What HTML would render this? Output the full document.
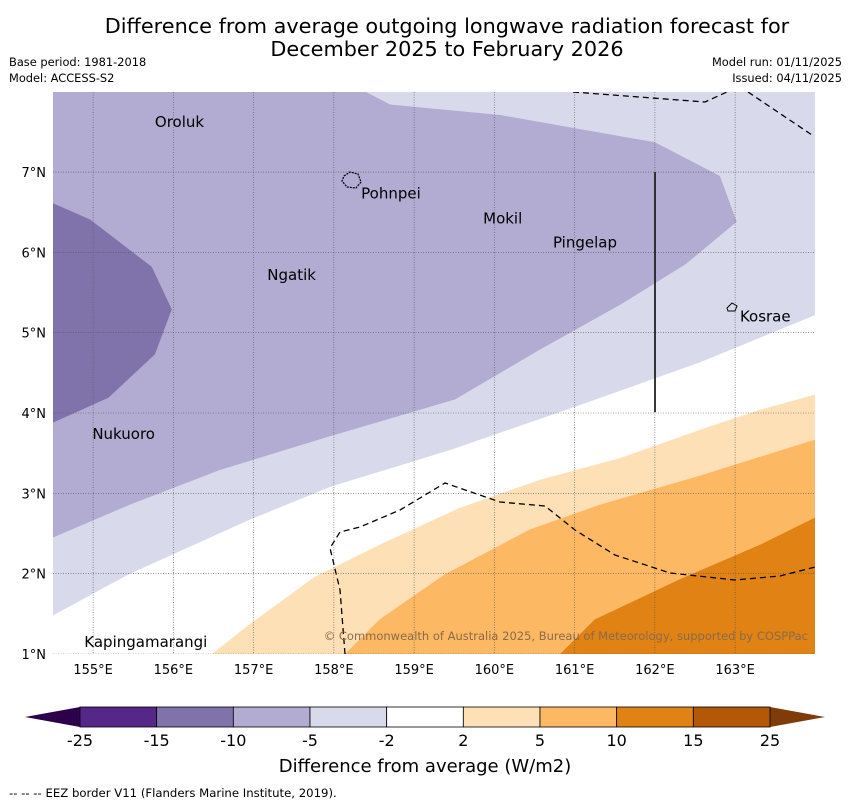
<!DOCTYPE html>
<html><head><meta charset="utf-8"><style>
body{margin:0;background:#fff;width:850px;height:804px;overflow:hidden;font-family:"DejaVu Sans","Liberation Sans",sans-serif}
svg text{font-family:"DejaVu Sans","Liberation Sans",sans-serif}
</style></head><body>
<svg id="chart" width="850" height="804" xmlns="http://www.w3.org/2000/svg">
<text x="447" y="33" font-size="20.8" text-anchor="middle">Difference from average outgoing longwave radiation forecast for</text>
<text x="447" y="56" font-size="20.8" text-anchor="middle">December 2025 to February 2026</text>
<text x="9" y="66" font-size="11.4">Base period: 1981-2018</text>
<text x="9" y="82" font-size="11.4">Model: ACCESS-S2</text>
<text x="842" y="66" font-size="11.4" text-anchor="end">Model run: 01/11/2025</text>
<text x="842" y="82" font-size="11.4" text-anchor="end">Issued: 04/11/2025</text>
<defs><clipPath id="mapclip"><rect x="53" y="92" width="762" height="562"/></clipPath></defs>
<g id="map" clip-path="url(#mapclip)">
<rect x="53" y="92" width="762" height="562" fill="#fff"/>
<g id="fills"></g>
<g id="grid"></g>
<g id="borders" fill="none" stroke="#000" stroke-width="1.3" stroke-dasharray="6,4">
<path d="M573,92 L705,102 L740,86"/>
<path d="M748,92 L812,135"/>
<path d="M345,654 L340,590 L330,548 L340,532 L360,527 L400,510 L445,483 L500,502 L545,506 L575,530 L615,555 L670,573 L735,580 L780,576 L815,567"/>
</g>
<line x1="655" y1="172" x2="655" y2="412" stroke="#222" stroke-width="1.8"/>
<path d="M344,176 L350,172 L358,174 L361,182 L356,188 L347,187 L342,181 Z" fill="none" stroke="#000" stroke-width="1.2" stroke-dasharray="2,1"/>
<path d="M727,308 L732,303 L737,306 L735,311 L728,311 Z" fill="none" stroke="#000" stroke-width="1"/>
<g id="labels" font-size="15"></g>
<text x="808" y="640" font-size="11.5" fill="#8a6a4a" text-anchor="end">© Commonwealth of Australia 2025, Bureau of Meteorology, supported by COSPPac</text>
</g>
<g id="ticks" font-size="13"></g>
<g id="colorbar"></g>
<text x="425" y="772" font-size="18" text-anchor="middle">Difference from average (W/m2)</text>
<text x="9" y="797" font-size="11.7">--  --  -- EEZ border V11 (Flanders Marine Institute, 2019).</text>
</svg>
<script>
const lonTicks=[155,156,157,158,159,160,161,162,163];
const latTicks=[1,2,3,4,5,6,7];
const levelLabels=["-25","-15","-10","-5","-2","2","5","10","15","25"];
const levelColors=["#542788","#8073ac","#b2abd2","#d8daeb","#ffffff","#fee0b6","#fdb863","#e08214","#b35806"];
const contourMinus2Lon=[154.5,155.46,156.95,157.95,159.45,161.07,162.56,164,164,154.5];
const contourMinus2Lat=[1.48,2.0,2.67,3.08,3.54,4.10,4.63,5.22,8.2,8.2];
const contourMinus5Lon=[154.5,154.5,158.01,158.70,160.07,162.0,162.81,163.02,162.38,161.57,160.57,159.51,157.95,156.58,155.46];
const contourMinus5Lat=[2.45,8.2,8.2,7.84,7.71,7.37,6.95,6.38,5.85,5.35,4.79,4.17,3.71,3.29,2.86];
const contourMinus10Lon=[154.5,154.96,155.73,155.98,155.77,155.19,154.5];
const contourMinus10Lat=[6.61,6.41,5.82,5.29,4.73,4.19,3.88];
const contour2Lon=[156.48,156.95,157.76,158.57,159.57,160.57,161.57,162.56,163.31,164,164];
const contour2Lat=[1.0,1.37,1.96,2.36,2.82,3.17,3.44,3.79,4.04,4.23,1.0];
const contour5Lon=[158.14,158.57,159.38,160.44,161.32,162.56,164,164];
const contour5Lat=[1.0,1.43,1.99,2.55,2.86,3.22,3.67,1.0];
const contour10Lon=[160.82,161.25,162.31,163.31,164,164];
const contour10Lat=[1.0,1.43,1.93,2.36,2.70,1.0];
const places=["Oroluk","Pohnpei","Ngatik","Mokil","Pingelap","Kosrae","Nukuoro","Kapingamarangi"];
const placeLon=[155.77,158.34,157.17,159.86,160.73,163.06,154.99,154.89];
const placeLat=[7.62,6.73,5.72,6.42,6.12,5.20,3.74,1.15];

const X=lon=>53+(lon-154.5)*80.25;
const Y=lat=>654-(lat-1)*80.33;
const NS="http://www.w3.org/2000/svg";
function mk(tag,parent,attrs){const e=document.createElementNS(NS,tag);for(const k in attrs)e.setAttribute(k,attrs[k]);parent.appendChild(e);return e;}
const fills=document.getElementById('fills');
const layers=[[contourMinus2Lon,contourMinus2Lat,3,'fill-minus5-to-minus2'],[contourMinus5Lon,contourMinus5Lat,2,'fill-minus10-to-minus5'],[contourMinus10Lon,contourMinus10Lat,1,'fill-minus15-to-minus10'],[contour2Lon,contour2Lat,5,'fill-2-to-5'],[contour5Lon,contour5Lat,6,'fill-5-to-10'],[contour10Lon,contour10Lat,7,'fill-10-to-15']];
layers.forEach(l=>{
 const pts=l[0].map((v,i)=>X(v).toFixed(1)+','+Y(l[1][i]).toFixed(1)).join(' ');
 const p=mk('polygon',fills,{points:pts,fill:levelColors[l[2]]});
 
 
});
const grid=document.getElementById('grid');
const ticks=document.getElementById('ticks');
lonTicks.forEach(v=>{
 const g=mk('line',grid,{x1:X(v),x2:X(v),y1:92,y2:654,stroke:'#555','stroke-width':0.6,'stroke-dasharray':'1,1.5'});
 
 
 const t=mk('text',ticks,{x:X(v),y:674,'text-anchor':'middle'});t.textContent=v+'°E';
 
 
});
latTicks.forEach(v=>{
 const g=mk('line',grid,{x1:53,x2:815,y1:Y(v),y2:Y(v),stroke:'#555','stroke-width':0.6,'stroke-dasharray':'1,1.5'});
 
 
 const t=mk('text',ticks,{x:46,y:Y(v)+5,'text-anchor':'end'});t.textContent=v+'°N';
 
 
});
const labels=document.getElementById('labels');
places.forEach((n,i)=>{
 const t=mk('text',labels,{x:X(placeLon[i]),y:Y(placeLat[i])+5});t.textContent=n;
 
 
});
const cb=document.getElementById('colorbar');
const cx0=80,cx1=770,cy=707,ch=20,sw=(cx1-cx0)/levelColors.length;
const la=mk('polygon',cb,{points:`${cx0},${cy} ${cx0},${cy+ch} 25,${cy+ch/2}`,fill:'#2d004b'});


const ra=mk('polygon',cb,{points:`${cx1},${cy} ${cx1},${cy+ch} 825,${cy+ch/2}`,fill:'#7f3b08'});


levelColors.forEach((c,i)=>{
 const r=mk('rect',cb,{x:cx0+i*sw,y:cy,width:sw,height:ch,fill:c,stroke:'#000','stroke-width':0.8});
 
 
});
levelLabels.forEach((s,i)=>{
 const t=mk('text',cb,{x:cx0+i*sw,y:746,'font-size':16,'text-anchor':'middle'});t.textContent=s;
 
 
});
</script>
</body></html>
